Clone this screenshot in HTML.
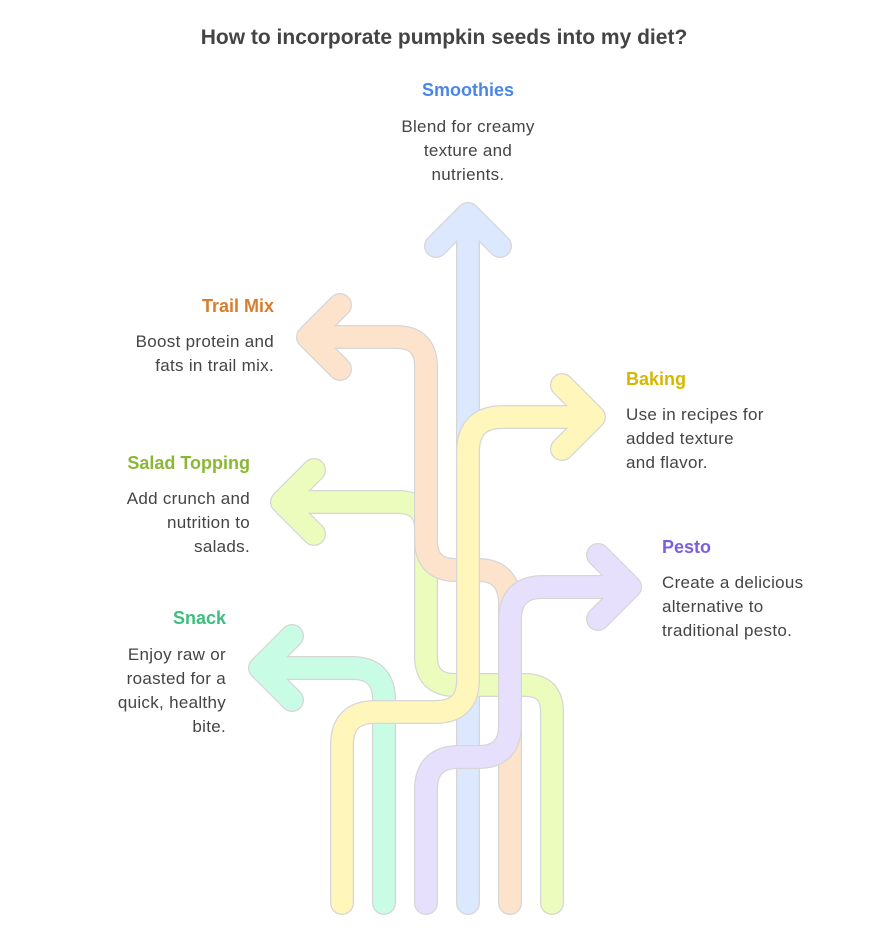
<!DOCTYPE html>
<html><head><meta charset="utf-8"><style>
body{margin:0;background:#fff;width:888px;height:942px;position:relative;overflow:hidden;font-family:"Liberation Sans",sans-serif;color:#444}
.t{position:absolute;font-size:17px;line-height:24px;letter-spacing:0.3px}
.h{position:absolute;font-weight:bold;font-size:18px}
</style></head><body>
<div class="h" style="left:0;width:888px;text-align:center;top:26px;font-size:21px;color:#444">How to incorporate pumpkin seeds into my diet?</div>
<div class="h" style="left:368px;width:200px;text-align:center;top:80px;color:#4a86e8">Smoothies</div>
<div class="t" style="left:358px;width:220px;text-align:center;top:115px">Blend for creamy<br>texture and<br>nutrients.</div>
<div class="h" style="right:614px;top:296px;color:#d97c2b">Trail Mix</div>
<div class="t" style="right:614px;text-align:right;top:330px">Boost protein and<br>fats in trail mix.</div>
<div class="h" style="left:626px;top:369px;color:#d4b800">Baking</div>
<div class="t" style="left:626px;top:403px">Use in recipes for<br>added texture<br>and flavor.</div>
<div class="h" style="right:638px;top:453px;color:#8ab836">Salad Topping</div>
<div class="t" style="right:638px;text-align:right;top:487px">Add crunch and<br>nutrition to<br>salads.</div>
<div class="h" style="left:662px;top:537px;color:#7b5fe0">Pesto</div>
<div class="t" style="left:662px;top:571px">Create a delicious<br>alternative to<br>traditional pesto.</div>
<div class="h" style="right:662px;top:608px;color:#3cbf7e">Snack</div>
<div class="t" style="right:662px;text-align:right;top:643px">Enjoy raw or<br>roasted for a<br>quick, healthy<br>bite.</div>
<svg width="888" height="942" style="position:absolute;left:0;top:0" fill="none" stroke-linecap="round" stroke-linejoin="round">
<defs>
<g id="blue"><path d="M468 903V214M436 246L468 214L500 246"/></g>
<g id="green"><path d="M552 903V712Q552 685 525 685H455Q426 685 426 656V530Q426 502 398 502H282M314 470L282 502L314 534"/></g>
<g id="mint"><path d="M384 903V700Q384 668 352 668H260M292 636L260 668L292 700"/></g>
<g id="peach"><path d="M510 903V605Q510 570 478 570H456Q426 570 426 540V367Q426 337 396 337H308M340 305L308 337L340 369"/></g>
<g id="yellow"><path d="M342 903V745Q342 712 375 712H435Q468 712 468 680V452Q468 417 503 417H594M562 385L594 417L562 449"/></g>
<g id="purple"><path d="M426 903V790Q426 757 459 757H478Q510 757 510 725V620Q510 587 543 587H630M598 555L630 587L598 619"/></g>
</defs>
<g stroke-width="24" stroke="#d6d6d6"><use href="#blue"/></g><g stroke-width="21.5" stroke="#dce8fd"><use href="#blue"/></g>
<g stroke-width="24" stroke="#d6d6d6"><use href="#green"/></g><g stroke-width="21.5" stroke="#ecfcbd"><use href="#green"/></g>
<g stroke-width="24" stroke="#d6d6d6"><use href="#mint"/></g><g stroke-width="21.5" stroke="#c9fce4"><use href="#mint"/></g>
<g stroke-width="24" stroke="#d6d6d6"><use href="#peach"/></g><g stroke-width="21.5" stroke="#fde3cc"><use href="#peach"/></g>
<g stroke-width="24" stroke="#d6d6d6"><use href="#yellow"/></g><g stroke-width="21.5" stroke="#fef6bb"><use href="#yellow"/></g>
<g stroke-width="24" stroke="#d6d6d6"><use href="#purple"/></g><g stroke-width="21.5" stroke="#e6e0fd"><use href="#purple"/></g>
</svg>
</body></html>
